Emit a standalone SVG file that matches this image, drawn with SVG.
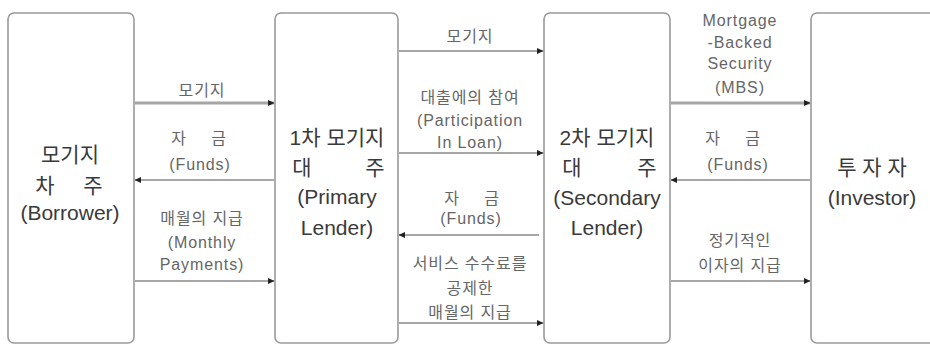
<svg xmlns="http://www.w3.org/2000/svg" width="930" height="345" viewBox="0 0 930 345">
<style>
.box{fill:#fff;stroke:#9a9a9a;stroke-width:1.6}
.bt{font-family:"Liberation Sans","Noto Sans CJK KR",sans-serif;font-size:21px;fill:#3a3a3a;text-anchor:middle}
.lt{font-family:"Liberation Sans","Noto Sans CJK KR",sans-serif;font-size:16px;fill:#666;text-anchor:middle;letter-spacing:0.9px}
.ln{stroke:#8a8a8a;stroke-width:1.6;fill:none;marker-end:url(#ah)}
.thick{stroke:#a5a5a5;stroke-width:3}
</style>
<defs>
<marker id="ah" markerUnits="userSpaceOnUse" markerWidth="7" markerHeight="7" refX="6" refY="3.5" orient="auto">
<path d="M0,0.5 L6.5,3.5 L0,6.5 z" fill="#222"/>
</marker>
</defs>
<rect width="930" height="345" fill="#fff"/>
<g id="borrower">
<rect class="box" x="8" y="13" width="126" height="330" rx="6"/>
<text class="bt" x="70" y="162">모기지</text>
<text class="bt" x="45" y="193">차</text>
<text class="bt" x="93" y="193">주</text>
<text class="bt" x="70" y="220">(Borrower)</text>
</g>
<g id="primary">
<rect class="box" x="275" y="13" width="123" height="330" rx="6"/>
<text class="bt" x="337" y="145">1차 모기지</text>
<text class="bt" x="302" y="175">대</text>
<text class="bt" x="375" y="175">주</text>
<text class="bt" x="337" y="204">(Primary</text>
<text class="bt" x="337" y="235">Lender)</text>
</g>
<g id="secondary">
<rect class="box" x="544" y="13" width="126" height="330" rx="6"/>
<text class="bt" x="607" y="145">2차 모기지</text>
<text class="bt" x="572" y="175">대</text>
<text class="bt" x="647" y="175">주</text>
<text class="bt" x="607" y="205">(Secondary</text>
<text class="bt" x="607" y="235">Lender)</text>
</g>
<g id="investor">
<rect class="box" x="811" y="13" width="130" height="330" rx="6"/>
<text class="bt" x="872" y="175">투 자 자</text>
<text class="bt" x="872" y="205">(Investor)</text>
</g>
<g id="connectors">
<line class="ln thick" x1="135" y1="103" x2="274" y2="103"/>
<line class="ln" x1="274" y1="180" x2="135" y2="180"/>
<line class="ln" x1="135" y1="281" x2="274" y2="281"/>
<line class="ln" x1="399" y1="51" x2="543" y2="51"/>
<line class="ln" x1="399" y1="153" x2="543" y2="153"/>
<line class="ln" x1="539" y1="235" x2="399" y2="235"/>
<line class="ln" x1="399" y1="323" x2="543" y2="323"/>
<line class="ln thick" x1="671" y1="103" x2="810" y2="103"/>
<line class="ln" x1="810" y1="180" x2="671" y2="180"/>
<line class="ln" x1="671" y1="281" x2="810" y2="281"/>
</g>
<g id="labels">
<text class="lt" x="202" y="96">모기지</text>
<text class="lt" x="179" y="144">자</text>
<text class="lt" x="219" y="144">금</text>
<text class="lt" x="200" y="170">(Funds)</text>
<text class="lt" x="202" y="224">매월의 지급</text>
<text class="lt" x="202" y="248">(Monthly</text>
<text class="lt" x="202" y="270">Payments)</text>
<text class="lt" x="470" y="42">모기지</text>
<text class="lt" x="470" y="103">대출에의 참여</text>
<text class="lt" x="470" y="126">(Participation</text>
<text class="lt" x="470" y="148">In Loan)</text>
<text class="lt" x="452" y="204">자</text>
<text class="lt" x="492" y="204">금</text>
<text class="lt" x="471" y="224">(Funds)</text>
<text class="lt" x="470" y="269">서비스 수수료를</text>
<text class="lt" x="470" y="294">공제한</text>
<text class="lt" x="470" y="318">매월의 지급</text>
<text class="lt" x="740" y="26">Mortgage</text>
<text class="lt" x="740" y="48">-Backed</text>
<text class="lt" x="740" y="69">Security</text>
<text class="lt" x="740" y="93">(MBS)</text>
<text class="lt" x="713" y="144">자</text>
<text class="lt" x="753" y="144">금</text>
<text class="lt" x="738" y="170">(Funds)</text>
<text class="lt" x="740" y="246">정기적인</text>
<text class="lt" x="740" y="271">이자의 지급</text>
</g>
</svg>
